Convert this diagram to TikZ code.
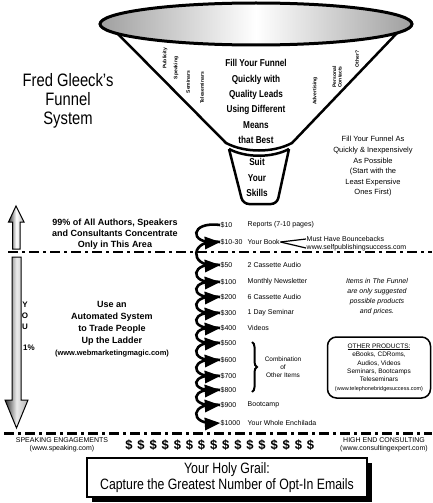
\documentclass[tikz,border=0pt]{standalone}
\usepackage{fontspec}
\setmainfont{Liberation Sans}
\newfontfamily\condfont{Liberation Sans}[FakeStretch=0.82]
\usetikzlibrary{arrows,shadows,decorations.pathreplacing}

\begin{document}
\begin{tikzpicture}[x=1pt,y=-1pt,
  funtext/.style={font=\condfont\bfseries\fontsize{10}{15.3}\selectfont,align=center,inner sep=0},
  side/.style={rotate=90,font=\bfseries\fontsize{5}{5.5}\selectfont,inner sep=0,align=center},
  price/.style={anchor=west,inner sep=0.5pt,font=\fontsize{7}{8}\selectfont},
  you/.style={font=\bfseries\fontsize{8}{8}\selectfont,inner sep=0},
  curl/.style={line width=2.6pt,-triangle 45},
  divider/.style={dash pattern=on 10pt off 4pt on 3pt off 4pt}]

\useasboundingbox (0,0) rectangle (432,503);

% funnel
\draw[line width=2.5pt,fill=white,rounded corners=6pt] (229,149) -- (243,204) -- (277,204) -- (289,149);
\draw[line width=2.5pt] (229,149) .. controls (246,158) and (272,158) .. (289,149);
\draw[line width=2.5pt,fill=white] (118,34) -- (226,143) .. controls (245,153) and (273,153) .. (292,143) -- (398,32);
\shade[left color=gray!75,right color=gray!75,middle color=white] (256,24) ellipse [x radius=156pt,y radius=21pt];
\draw[line width=3pt] (256,24) ellipse [x radius=156pt,y radius=21pt];

\node[funtext] (fill) at (256,101.5) {Fill Your Funnel\\Quickly with\\Quality Leads\\Using Different\\Means\\that Best};
\node[funtext] (suit) at (257,177.5) {Suit\\Your\\Skills};

\node[side] (publicity) at (165,58) {Publicity};
\node[side] (speaking) at (176,68) {Speaking};
\node[side] (seminars) at (188,82) {Seminars};
\node[side] (teleseminars) at (202,88) {Teleseminars};
\node[side] (advertising) at (315,91) {Advertising};
\node[side] (contacts) at (337,77) {Personal\\Contacts};
\node[side] (other) at (357,59) {Other?};

\node[font=\condfont\fontsize{18}{18.7}\selectfont,align=center] (title) at (68,101) {Fred Gleeck’s\\Funnel\\System};
\node[font=\fontsize{7.5}{10.6}\selectfont,align=center] (cheap) at (373,166.5) {Fill Your Funnel As\\Quickly \& Inexpensively\\As Possible\\(Start with the\\Least Expensive\\Ones First)};

% left arrows
\shadedraw[left color=gray!40!black,right color=gray!60,middle color=white,line width=1pt] (16,206) -- (24,222) -- (20,222) -- (20,249) -- (12.5,249) -- (12.5,222) -- (8.5,222) -- cycle;
\shadedraw[left color=gray!40!black,right color=gray!60,middle color=gray!15,line width=1pt] (12,257) -- (21,257) -- (21,400) -- (28,400) -- (16.5,428) -- (5,400) -- (12,400) -- cycle;
\node[you] (y) at (25,305) {Y};
\node[you] (o) at (25,316) {O};
\node[you] (u) at (25,327) {U};
\node[you] (pct) at (29,348) {1\%};

\node[font=\bfseries\fontsize{9}{11}\selectfont,align=center] (crowd) at (115,234) {99\% of All Authors, Speakers\\and Consultants Concentrate\\Only in This Area};
\node[font=\bfseries\fontsize{9}{12}\selectfont,align=center] (ladder) at (112,329) {Use an\\Automated System\\to Trade People\\Up the Ladder\\{\fontsize{7.5}{11}\selectfont(www.webmarketingmagic.com)}};

% dividers
\coordinate (l1) at (8,252);
\coordinate (r1) at (432,252);
\coordinate (l2) at (4,433);
\coordinate (r2) at (432,433);
\draw[divider,line width=1.8pt] (l1) -- (r1);
\draw[divider,line width=3pt] (l2) -- (r2);

% ladder of products
\foreach \n/\y/\p in {1/225/\$10,2/242/\$10-30,3/265/\$50,4/282/\$100,5/297/\$200,6/313/\$300,7/328/\$400,8/343/\$500,9/360/\$600,10/376/\$700,11/390/\$800,12/405/\$900,13/423/\$1000}
  \node[price] (v\n) at (220,\y) {\p};
\foreach \n/\y/\t in {1/225/Reports (7-10 pages),2/242/Your Book,3/265/2 Cassette Audio,4/282/Monthly Newsletter,5/297/6 Cassette Audio,6/313/1 Day Seminar,7/328/Videos,12/405/Bootcamp,13/423/Your Whole Enchilada}
  \node[price] (w\n) at (247,\y) {\t};
\foreach \n [count=\m from 2] in {1,...,12}
  \draw[curl] (v\n.west) .. controls +(-30,-4) and +(-32,2) .. (v\m.west);

\node[price] (bounce) at (306,239) {Must Have Bouncebacks};
\node[price] (spurl) at (306,248) {www.selfpublishingsuccess.com};
\draw[line width=1.2pt] (w2.east) -- (bounce.west);
\draw[line width=1.2pt] (w2.east) -- (spurl.west);

\draw[line width=2pt,decorate,decoration={brace,amplitude=5pt}] (252,342) -- (252,392);
\node[font=\fontsize{6.5}{8}\selectfont,align=center] (combo) at (283,367) {Combination\\of\\Other Items};

\node[font=\itshape\fontsize{7}{10}\selectfont,align=center] (note) at (377,297) {Items in The Funnel\\are only suggested\\possible products\\and prices.};
\node[draw,line width=1.5pt,rounded corners=9pt,minimum width=103pt,minimum height=61pt,inner sep=1pt,font=\fontsize{6.5}{8.4}\selectfont,align=center] (others) at (379,367.5) {\underline{OTHER PRODUCTS:}\\eBooks, CDRoms,\\Audios, Videos\\Seminars, Bootcamps\\Teleseminars\\{\fontsize{5.5}{8.4}\selectfont(www.telephonebridgesuccess.com)}};

% bottom
\node[font=\fontsize{7}{8.5}\selectfont,align=center] (speak) at (62,445) {SPEAKING ENGAGEMENTS\\(www.speaking.com)};
\node[font=\fontsize{7}{8.5}\selectfont,align=center] (consult) at (384,445) {HIGH END CONSULTING\\(www.consultingexpert.com)};
\foreach \i in {0,...,15}
  \node[font=\bfseries\fontsize{13}{13}\selectfont,inner sep=0] (d\i) at (129+12.1*\i,445) {\$};

\node[draw,line width=1.5pt,fill=white,minimum width=280pt,minimum height=39pt,drop shadow={shadow xshift=5pt,shadow yshift=-5pt,opacity=1,fill=black},font=\condfont\fontsize{15}{16.5}\selectfont,align=center] (grail) at (227,477.5) {Your Holy Grail:\\Capture the Greatest Number of Opt-In Emails};
\end{tikzpicture}
\end{document}
